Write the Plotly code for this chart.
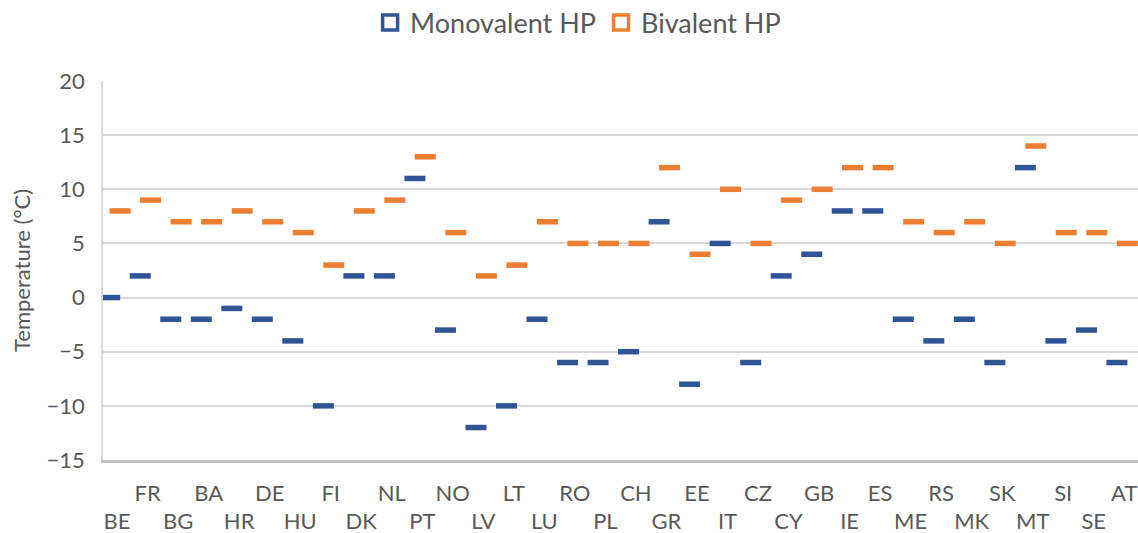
import plotly.graph_objects as go

categories = ["BE", "FR", "BG", "BA", "HR", "DE", "HU", "FI", "DK", "NL", "PT", "NO",
              "LV", "LT", "LU", "RO", "PL", "CH", "GR", "EE", "IT", "CZ", "CY", "GB",
              "IE", "ES", "ME", "RS", "MK", "SK", "MT", "SI", "SE", "AT"]
monovalent = [0, 2, -2, -2, -1, -2, -4, -10, 2, 2, 11, -3,
              -12, -10, -2, -6, -6, -5, 7, -8, 5, -6, 2, 4,
              8, 8, -2, -4, -2, -6, 12, -4, -3, -6]
bivalent = [8, 9, 7, 7, 8, 7, 6, 3, 8, 9, 13, 6,
            2, 3, 7, 5, 5, 5, 12, 4, 10, 5, 9, 10,
            12, 12, 7, 6, 7, 5, 14, 6, 6, 5]
y_ticks = [-15, -10, -5, 0, 5, 10, 15, 20]

BLUE = "#2F5597"
ORANGE = "#ED7D31"
TXT = "#595959"
FONT = "Lato, Open Sans, sans-serif"
OFF_MONO = -0.24
OFF_BI = 0.10

idx = list(range(len(categories)))
x_mono = [i + OFF_MONO for i in idx]
x_bi = [i + OFF_BI for i in idx]

fig = go.Figure()
fig.add_trace(go.Scatter(x=x_mono, y=monovalent, mode="markers", showlegend=False,
                         name="Monovalent HP",
                         marker=dict(symbol="line-ew", size=15, line=dict(width=5.5, color=BLUE))))
fig.add_trace(go.Scatter(x=x_bi, y=bivalent, mode="markers", showlegend=False,
                         name="Bivalent HP", xaxis="x2",
                         marker=dict(symbol="line-ew", size=15, line=dict(width=5.5, color=ORANGE))))
# legend entries
fig.add_trace(go.Scatter(x=[None], y=[None], mode="markers", name="Monovalent HP",
                         marker=dict(symbol="square-open", size=15, color=BLUE, line=dict(width=3.5, color=BLUE))))
fig.add_trace(go.Scatter(x=[None], y=[None], mode="markers", name="Bivalent HP",
                         marker=dict(symbol="square-open", size=15, color=ORANGE, line=dict(width=3.5, color=ORANGE))))

xr = [-0.46, 33.45]
even = [i for i in idx if i % 2 == 0]
odd = [i for i in idx if i % 2 == 1]

fig.update_layout(
    width=1138, height=533,
    margin=dict(l=103, r=0, t=81, b=73, autoexpand=False),
    paper_bgcolor="white", plot_bgcolor="white",
    font=dict(family=FONT, color=TXT),
    legend=dict(orientation="h", x=0.508, xref="container", xanchor="center",
                y=0.957, yref="container", yanchor="middle",
                font=dict(size=27, color=TXT), itemwidth=30, tracegroupgap=0),
    xaxis=dict(range=xr, tickmode="array", tickvals=even, automargin=False,
               ticktext=[categories[i] for i in even],
               showgrid=False, zeroline=False, showline=True, linecolor="#BFBFBF",
               linewidth=2.5, ticks="", ticklabelstandoff=40,
               tickfont=dict(size=22, color=TXT)),
    xaxis2=dict(range=xr, matches="x", overlaying="x", anchor="y", side="bottom",
                automargin=False,
                tickmode="array", tickvals=odd, ticktext=[categories[i] for i in odd],
                showgrid=False, zeroline=False, showline=False, ticks="",
                ticklabelstandoff=18, tickfont=dict(size=22, color=TXT)),
    yaxis=dict(range=[-15, 20], tickmode="array", tickvals=y_ticks, automargin=False,
               showgrid=True, gridcolor="#D9D9D9", gridwidth=1.5,
               zeroline=False, showline=True, linecolor="#D9D9D9", linewidth=1.5,
               ticks="", ticklabelstandoff=12,
               tickfont=dict(size=22, color=TXT),
               title=dict(text="Temperature (°C)", font=dict(size=22, color=TXT), standoff=10)),
)

fig.write_html("out.html", config={"displayModeBar": False},
               post_script="document.body.style.margin='0';document.body.style.overflow='hidden';")
